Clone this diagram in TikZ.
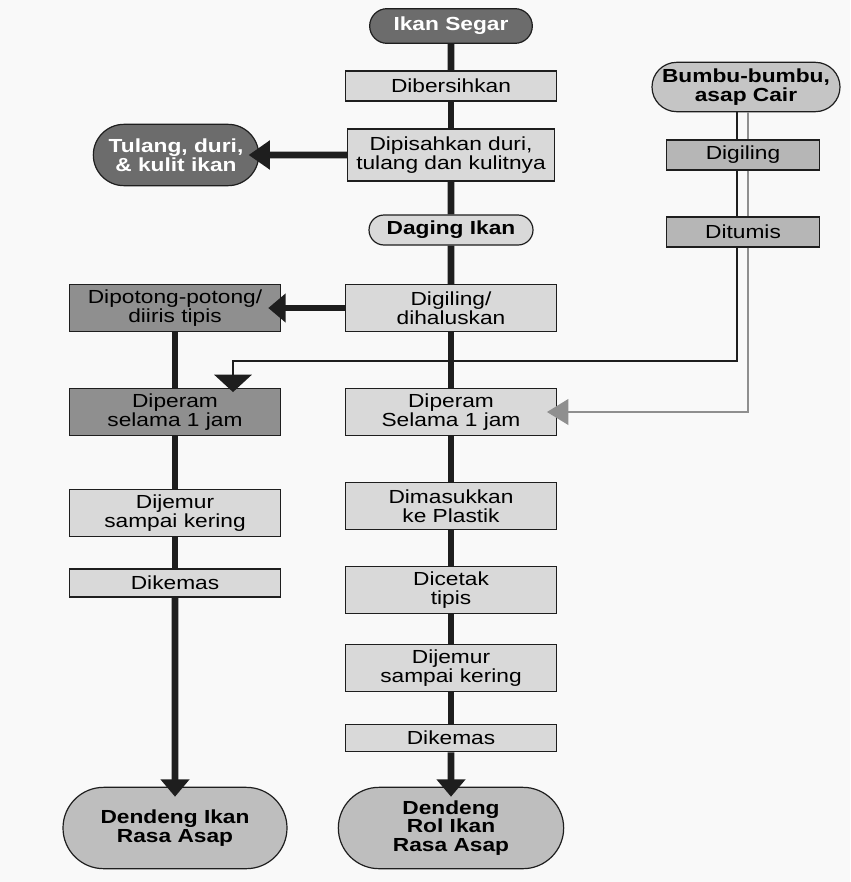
\documentclass[tikz,border=0pt]{standalone}
\usepackage{fontspec}
\setmainfont{Liberation Sans}[FakeStretch=1.2]
\usetikzlibrary{arrows.meta,positioning,calc,shapes.misc}
\definecolor{kertas}{RGB}{249,249,249}
\definecolor{abuTua}{RGB}{108,108,108}
\definecolor{abuSedang}{RGB}{143,143,143}
\definecolor{abuMuda}{RGB}{217,217,217}
\definecolor{abuBumbu}{RGB}{182,182,182}
\definecolor{abuHasil}{RGB}{190,190,190}
\definecolor{garis}{RGB}{30,30,30}

\begin{document}
\begin{tikzpicture}[x=0.75pt,y=-0.75pt,
    every node/.style={font=\fontsize{14.2}{13.9}\selectfont, align=center, inner sep=0pt},
    langkah/.style={rectangle, draw=garis, line width=0.9pt, fill=abuMuda, minimum width=158pt, minimum height=#1},
    langkah/.default=35pt,
    kapsul/.style={rounded rectangle, draw=garis, line width=0.9pt, font=\fontsize{14.2}{13.9}\selectfont\bfseries},
    alur/.style={line width=5pt, draw=garis},
    panah/.style={-{Triangle[length=13pt,width=21pt]}, shorten >=-7.5pt},
    asap/.style={line width=1.5pt, draw=garis},
    asapAbu/.style={line width=2pt, draw=abuSedang}]
    \fill[kertas] (0,0) rectangle (850,882);
    \useasboundingbox (0,0) rectangle (850,882);

    % jalur utama
    \node[kapsul, fill=abuTua, text=white, minimum width=122pt, minimum height=26pt] (segar) at (451,26) {Ikan Segar};
    \node[langkah=22.5pt] (bersih) at (451,86) {Dibersihkan};
    \node[langkah=39pt, minimum width=155pt] (pisah) at (451,155) {Dipisahkan duri,\\tulang dan kulitnya};
    \node[kapsul, fill=abuTua, text=white, minimum width=124pt, minimum height=46pt] (tulang) at (176,155) {Tulang, duri,\\\& kulit ikan};
    \node[kapsul, fill=abuMuda, minimum width=123pt, minimum height=22.5pt] (daging) at (451,230) {Daging Ikan};
    \node[langkah] (giling) at (451,308) {Digiling/\\dihaluskan};
    \node[langkah] (peramB) at (451,412) {Diperam\\Selama 1 jam};
    \node[langkah] (masuk) at (451,506) {Dimasukkan\\ke Plastik};
    \node[langkah] (cetak) at (451,590) {Dicetak\\tipis};
    \node[langkah] (jemurB) at (451,668) {Dijemur\\sampai kering};
    \node[langkah=20.5pt] (kemasB) at (451,738) {Dikemas};
    \node[kapsul, fill=abuHasil, minimum width=169pt, minimum height=61pt] (rol) at (451,828) {Dendeng\\Rol Ikan\\Rasa Asap};

    % cabang kiri
    \node[langkah, fill=abuSedang] (potong) at (175,308) {Dipotong-potong/\\diiris tipis};
    \node[langkah, fill=abuSedang] (peramA) at (175,412) {Diperam\\selama 1 jam};
    \node[langkah] (jemurA) at (175,513) {Dijemur\\sampai kering};
    \node[langkah=21pt] (kemasA) at (175,583) {Dikemas};
    \node[kapsul, fill=abuHasil, minimum width=168pt, minimum height=61pt] (ikan) at (175,828) {Dendeng Ikan\\Rasa Asap};

    % bumbu
    \node[kapsul, fill=abuBumbu!80!white, minimum width=141pt, minimum height=37pt] (bumbu) at (746,87) {Bumbu-bumbu,\\asap Cair};
    \node[langkah=22.5pt, fill=abuBumbu, minimum width=115pt] (bgiling) at (743,155) {Digiling};
    \node[langkah=22.5pt, fill=abuBumbu, minimum width=115pt] (tumis) at (743,232) {Ditumis};
    \coordinate (jalurHitam) at (737,0);
    \coordinate (jalurAbu) at (748,0);
    \coordinate (belok) at (233,361);

    \foreach \a/\b in {segar/bersih, bersih/pisah, pisah/daging, daging/giling, giling/peramB,
                       peramB/masuk, masuk/cetak, cetak/jemurB, jemurB/kemasB,
                       potong/peramA, peramA/jemurA, jemurA/kemasA}
        \draw[alur] (\a) -- (\b);
    \draw[alur, panah] (kemasB) -- (rol);
    \draw[alur, panah] (kemasA) -- (ikan);
    \draw[alur, panah, shorten >=-8pt, -{Triangle[length=16pt,width=21pt]}] (pisah) -- (tulang);
    \draw[alur, panah, shorten >=-9.5pt] (giling) -- (potong);

    % bumbu ke dua cabang
    \foreach \a/\b in {bumbu/bgiling, bgiling/tumis} {
        \draw[asap] (\a.south -| jalurHitam) -- (\b.north -| jalurHitam);
        \draw[asapAbu] (\a.south -| jalurAbu) -- (\b.north -| jalurAbu);
    }
    \draw[asap, -{Triangle[length=13pt,width=28pt]}, shorten >=-3pt] (tumis.south -| jalurHitam) |- (belok) -- (belok |- peramA.north);
    \draw[asapAbu, -{Triangle[length=16pt,width=19pt]}, shorten >=-7.5pt] (tumis.south -| jalurAbu) |- (peramB.east);
\end{tikzpicture}
\end{document}
